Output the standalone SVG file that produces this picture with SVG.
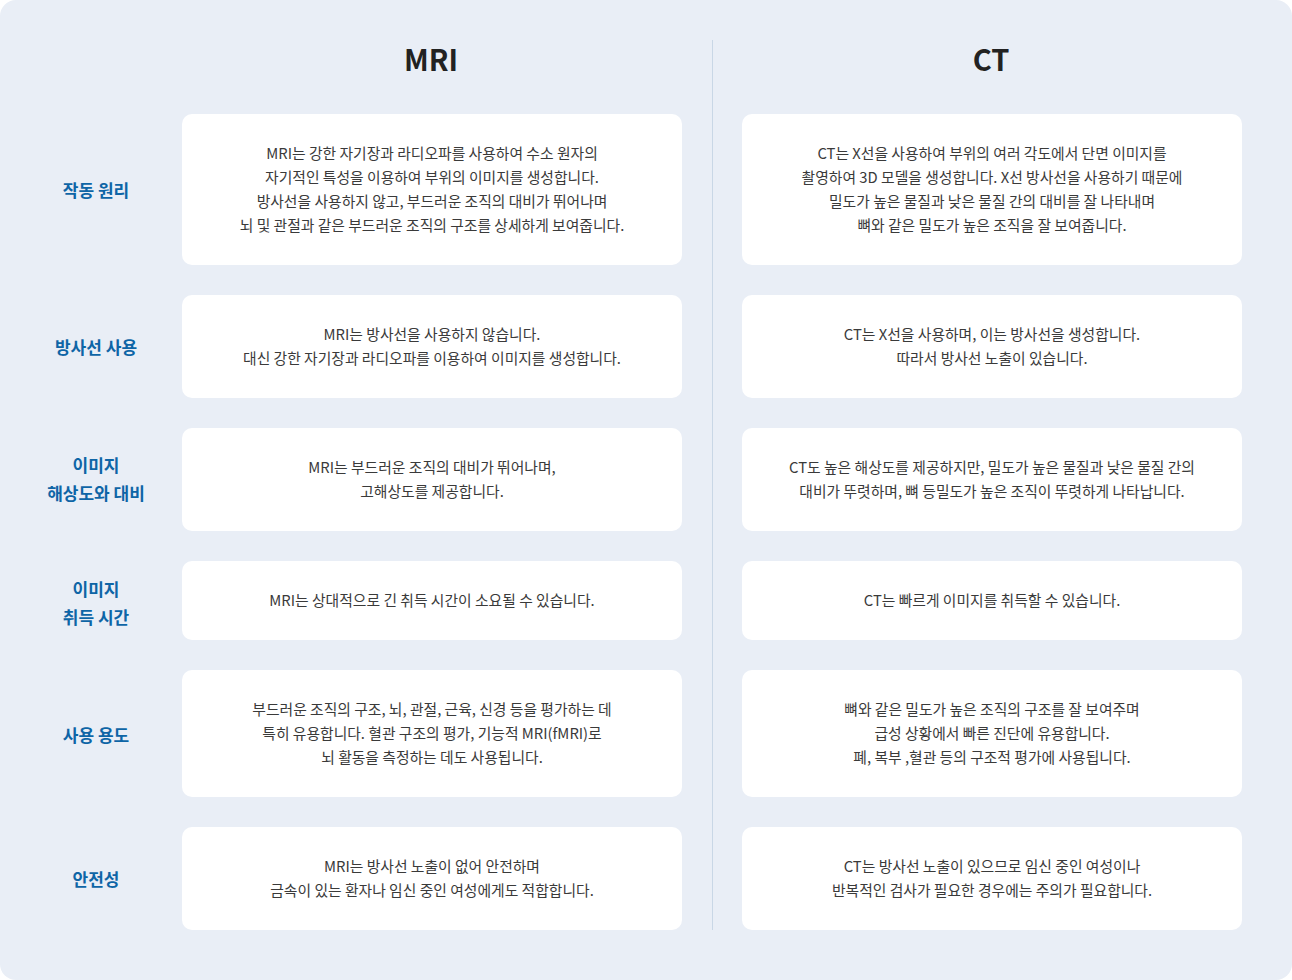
<svg xmlns="http://www.w3.org/2000/svg" width="1292" height="980" viewBox="0 0 1292 980">
<style>
.bg{fill:#e9eef6}
.card{fill:#ffffff}
.head{font-family:"Noto Sans CJK KR","Noto Sans",sans-serif;font-size:29px;font-weight:700;fill:#222222;text-anchor:middle}
.lab{font-family:"Noto Sans CJK KR","Noto Sans",sans-serif;font-size:17px;font-weight:700;fill:#0e65a6;text-anchor:middle;dominant-baseline:central}
.txt{font-family:"Noto Sans CJK KR","Noto Sans",sans-serif;font-size:14.8px;font-weight:400;fill:#3a3a3a;text-anchor:middle;dominant-baseline:central}
.div{stroke:#c9d7e6;stroke-width:1}
</style>
<rect x="0" y="0" width="1292" height="980" rx="16" class="bg"/>
<g id="connectors">
<line x1="712.5" y1="40" x2="712.5" y2="930" class="div"/>
</g>
<g id="header-mri"><text x="431" y="71" class="head">MRI</text></g>
<g id="header-ct"><text x="991" y="71" class="head">CT</text></g>

<g id="row1-label"><text x="96" y="189" class="lab">작동 원리</text></g>
<g id="row1-mri">
<rect x="182" y="114" width="500" height="151" rx="10" class="card"/>
<text x="432" y="152.5" class="txt">MRI는 강한 자기장과 라디오파를 사용하여 수소 원자의</text>
<text x="432" y="176.5" class="txt">자기적인 특성을 이용하여 부위의 이미지를 생성합니다.</text>
<text x="432" y="200.5" class="txt">방사선을 사용하지 않고, 부드러운 조직의 대비가 뛰어나며</text>
<text x="432" y="224.5" class="txt">뇌 및 관절과 같은 부드러운 조직의 구조를 상세하게 보여줍니다.</text>
</g>
<g id="row1-ct">
<rect x="742" y="114" width="500" height="151" rx="10" class="card"/>
<text x="992" y="152.5" class="txt">CT는 X선을 사용하여 부위의 여러 각도에서 단면 이미지를</text>
<text x="992" y="176.5" class="txt">촬영하여 3D 모델을 생성합니다. X선 방사선을 사용하기 때문에</text>
<text x="992" y="200.5" class="txt">밀도가 높은 물질과 낮은 물질 간의 대비를 잘 나타내며</text>
<text x="992" y="224.5" class="txt">뼈와 같은 밀도가 높은 조직을 잘 보여줍니다.</text>
</g>

<g id="row2-label"><text x="96" y="346" class="lab">방사선 사용</text></g>
<g id="row2-mri">
<rect x="182" y="295" width="500" height="103" rx="10" class="card"/>
<text x="432" y="333.5" class="txt">MRI는 방사선을 사용하지 않습니다.</text>
<text x="432" y="357.5" class="txt">대신 강한 자기장과 라디오파를 이용하여 이미지를 생성합니다.</text>
</g>
<g id="row2-ct">
<rect x="742" y="295" width="500" height="103" rx="10" class="card"/>
<text x="992" y="333.5" class="txt">CT는 X선을 사용하며, 이는 방사선을 생성합니다.</text>
<text x="992" y="357.5" class="txt">따라서 방사선 노출이 있습니다.</text>
</g>

<g id="row3-label"><text x="96" y="464" class="lab">이미지</text><text x="96" y="492" class="lab">해상도와 대비</text></g>
<g id="row3-mri">
<rect x="182" y="428" width="500" height="103" rx="10" class="card"/>
<text x="432" y="466.5" class="txt">MRI는 부드러운 조직의 대비가 뛰어나며,</text>
<text x="432" y="490.5" class="txt">고해상도를 제공합니다.</text>
</g>
<g id="row3-ct">
<rect x="742" y="428" width="500" height="103" rx="10" class="card"/>
<text x="992" y="466.5" class="txt">CT도 높은 해상도를 제공하지만, 밀도가 높은 물질과 낮은 물질 간의</text>
<text x="992" y="490.5" class="txt">대비가 뚜렷하며, 뼈 등밀도가 높은 조직이 뚜렷하게 나타납니다.</text>
</g>

<g id="row4-label"><text x="96" y="588" class="lab">이미지</text><text x="96" y="616" class="lab">취득 시간</text></g>
<g id="row4-mri">
<rect x="182" y="561" width="500" height="79" rx="10" class="card"/>
<text x="432" y="599.5" class="txt">MRI는 상대적으로 긴 취득 시간이 소요될 수 있습니다.</text>
</g>
<g id="row4-ct">
<rect x="742" y="561" width="500" height="79" rx="10" class="card"/>
<text x="992" y="599.5" class="txt">CT는 빠르게 이미지를 취득할 수 있습니다.</text>
</g>

<g id="row5-label"><text x="96" y="734" class="lab">사용 용도</text></g>
<g id="row5-mri">
<rect x="182" y="670" width="500" height="127" rx="10" class="card"/>
<text x="432" y="708.5" class="txt">부드러운 조직의 구조, 뇌, 관절, 근육, 신경 등을 평가하는 데</text>
<text x="432" y="732.5" class="txt">특히 유용합니다. 혈관 구조의 평가, 기능적 MRI(fMRI)로</text>
<text x="432" y="756.5" class="txt">뇌 활동을 측정하는 데도 사용됩니다.</text>
</g>
<g id="row5-ct">
<rect x="742" y="670" width="500" height="127" rx="10" class="card"/>
<text x="992" y="708.5" class="txt">뼈와 같은 밀도가 높은 조직의 구조를 잘 보여주며</text>
<text x="992" y="732.5" class="txt">급성 상황에서 빠른 진단에 유용합니다.</text>
<text x="992" y="756.5" class="txt">폐, 복부 ,혈관 등의 구조적 평가에 사용됩니다.</text>
</g>

<g id="row6-label"><text x="96" y="878" class="lab">안전성</text></g>
<g id="row6-mri">
<rect x="182" y="827" width="500" height="103" rx="10" class="card"/>
<text x="432" y="865.5" class="txt">MRI는 방사선 노출이 없어 안전하며</text>
<text x="432" y="889.5" class="txt">금속이 있는 환자나 임신 중인 여성에게도 적합합니다.</text>
</g>
<g id="row6-ct">
<rect x="742" y="827" width="500" height="103" rx="10" class="card"/>
<text x="992" y="865.5" class="txt">CT는 방사선 노출이 있으므로 임신 중인 여성이나</text>
<text x="992" y="889.5" class="txt">반복적인 검사가 필요한 경우에는 주의가 필요합니다.</text>
</g>
</svg>
